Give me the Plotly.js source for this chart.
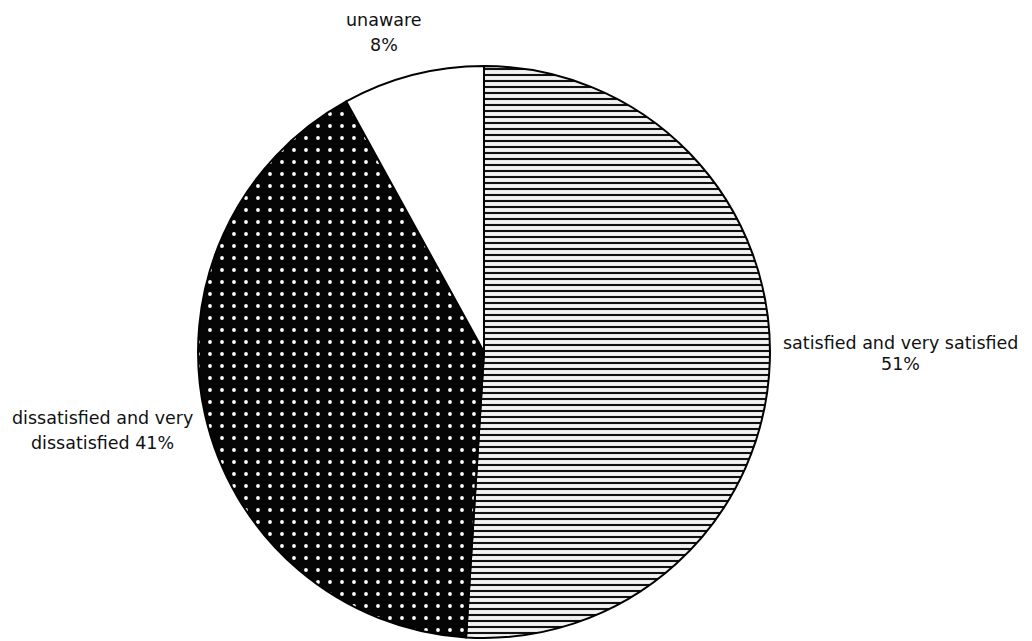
<!DOCTYPE html>
<html>
<head>
<meta charset="utf-8">
<script src="https://cdn.plot.ly/plotly-3.0.1.min.js"></script>
<style>html,body{margin:0;padding:0;background:#fff;}#chart{width:1032px;height:641px;}</style>
</head>
<body>
<div id="chart"></div>
<script>
const categories = ["satisfied and very satisfied", "dissatisfied and very dissatisfied", "unaware"];
const values = [51, 41, 8];
const labelLines = [
  ["satisfied and very satisfied", "51%"],
  ["dissatisfied and very", "dissatisfied 41%"],
  ["unaware", "8%"]
];

const trace = {
  type: "pie",
  labels: categories,
  values: values,
  sort: false,
  direction: "clockwise",
  rotation: 0,
  textinfo: "none",
  hoverinfo: "label+percent",
  showlegend: false,
  domain: {x: [0.1919, 0.7461], y: [0.0047, 0.897]},
  marker: {
    colors: ["#ffffff", "#050505", "#ffffff"],
    line: {color: "#000000", width: 2},
    pattern: {
      shape: ["-", ".", ""],
      fgcolor: ["#111111", "#ffffff", "#ffffff"],
      bgcolor: ["#f2f2f2", "#050505", "#ffffff"],
      size: [6, 12, 8],
      solidity: [0.35, 0.08, 0.1]
    }
  }
};

const font = {family: "DejaVu Sans, sans-serif", size: 17.5, color: "#111111"};
// label anchor positions in pixels: [x center, y of each line]
const anchors = [
  {x: 900, y: [343, 364]},
  {x: 102, y: [418, 443]},
  {x: 384, y: [20, 45]}
];
const annotations = [];
labelLines.forEach((lines, i) => {
  lines.forEach((line, j) => {
    annotations.push({
      xref: "paper", yref: "paper",
      x: anchors[i].x / 1032, y: 1 - anchors[i].y[j] / 641,
      xanchor: "center", yanchor: "middle",
      showarrow: false, align: "center",
      text: line,
      font: font
    });
  });
});

const layout = {
  width: 1032, height: 641,
  margin: {l: 0, r: 0, t: 0, b: 0},
  paper_bgcolor: "#ffffff",
  plot_bgcolor: "#ffffff",
  annotations: annotations
};

Plotly.newPlot("chart", [trace], layout, {displayModeBar: false, staticPlot: true});
</script>
</body>
</html>
